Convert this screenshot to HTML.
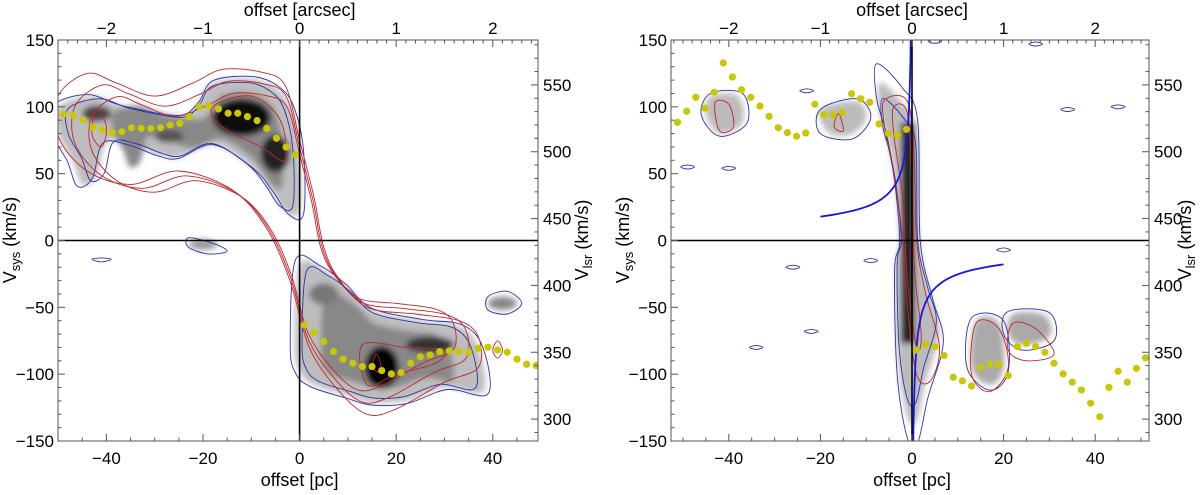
<!DOCTYPE html>
<html><head><meta charset="utf-8"><style>
body{margin:0;background:#fff}
svg text{font-family:"Liberation Sans","DejaVu Sans",sans-serif;fill:#000}
</style></head><body>
<svg id="s" width="1200" height="490" viewBox="0 0 1200 490" xmlns="http://www.w3.org/2000/svg">
<defs>
<filter id="bl" x="-20%" y="-20%" width="140%" height="140%"><feGaussianBlur stdDeviation="3"/></filter>
<clipPath id="cl"><rect x="58" y="40" width="480" height="401"/></clipPath>
<clipPath id="cr"><rect x="671" y="40" width="478" height="401"/></clipPath>
</defs>
</svg>
<script>
// ---- data ----
const leftDotPc = [-48.8,-46.8,-44.8,-42.8,-40.8,-38.8,-36.8,-34.8,-32.8,-30.8,-28.8,-26.8,-24.8,-22.8,-20.8,-18.8,-16.8,-14.8,-12.8,-10.8,-8.8,-6.8,-4.8,-2.8,-0.8,
 1,3,5,7,9,11,13,15,17,19,21,23,25,27,29,31,33,35,37,39,41,43,45,47,49];
const leftDotV = [94.7,93.4,90.2,84.7,82.7,80.7,81.4,84.4,83.9,83.7,84.4,86.4,87.7,92.7,100.1,100.6,98.4,95.2,95.2,92.7,89.7,83.9,76.5,69.9,64,
 -63.2,-68.9,-75.6,-83.1,-88.8,-91.8,-94.3,-94.3,-97.3,-99.8,-98.8,-91.8,-86.9,-85.6,-83.1,-82.6,-83.1,-83.6,-80.6,-79.8,-81.9,-83.6,-88.8,-92.6,-93.6];
const rightDotPc = [-51.2,-49.2,-47.2,-45.2,-43.2,-41.2,-39.2,-37.2,-35.2,-33.2,-31.2,-29.2,-27.2,-25.2,-23.2,-21.2,-19.2,-17.2,-15.2,-13.2,-11.2,-9.2,-7.2,-5.2,-3.2,-1.2,
 1,3,5,7,9,11,13,15,17,19,21,23,25,27,29,31,33,35,37,39,41,43,45,47,49,51];
const rightDotV = [88.4,96.7,107.1,99.0,110.9,132.8,122.3,112.8,107.1,100.6,92.9,84.4,80.7,78.0,80.4,101.9,94.1,93.7,95.9,109.8,106.1,103.4,87.2,80.2,78.7,83.2,
 -81.9,-77.6,-79.4,-86.1,-102.3,-105.0,-108.8,-94.8,-92.3,-93.1,-101.1,-79.4,-76.9,-79.4,-83.6,-91.8,-99.8,-106.0,-111.8,-121.7,-131.8,-109.8,-97.8,-106.0,-95.6,-87.8];
const xTicksPc = [-40,-20,0,20,40];
const xTicksArc = [-2,-1,0,1,2];
const yTicks = [150,100,50,0,-50,-100,-150];
const lsrTicks = [300,350,400,450,500,550];
const lsrOffset = 433.6;
const keplerA = 80;

const NS="http://www.w3.org/2000/svg";
const svg=document.getElementById('s');
function mk(tag,attrs,parent){const e=document.createElementNS(NS,tag);for(const k in attrs)e.setAttribute(k,attrs[k]);(parent||svg).appendChild(e);return e;}

function panel(id,x0,x1,zeroX,perPc,clip){
  const X=p=>zeroX+perPc*p, Y=v=>40+(150-v)*1.3367;
  const g=mk('g',{});
  
  
  const img=mk('g',{'clip-path':'url(#'+clip+')'},g);
  
  
  return {X,Y,g,img,x0,x1};
}
function smooth(P,pts,attrs,parent){
  const p=pts.map(q=>[P.X(q[0]),P.Y(q[1])]);const n=p.length;let d='M'+p[0][0].toFixed(1)+','+p[0][1].toFixed(1);
  for(let i=0;i<n;i++){const p0=p[(i-1+n)%n],p1=p[i],p2=p[(i+1)%n],p3=p[(i+2)%n];
    d+='C'+(p1[0]+(p2[0]-p0[0])/6).toFixed(1)+','+(p1[1]+(p2[1]-p0[1])/6).toFixed(1)+' '+(p2[0]-(p3[0]-p1[0])/6).toFixed(1)+','+(p2[1]-(p3[1]-p1[1])/6).toFixed(1)+' '+p2[0].toFixed(1)+','+p2[1].toFixed(1);}
  return mk('path',Object.assign({d:d+'Z'},attrs),parent);
}
function scale(pts,cx,cy,f){return pts.map(q=>[cx+(q[0]-cx)*f,cy+(q[1]-cy)*f]);}

function axes(P,name,lsrGap){
  const g=P.g, L=P.x0, R=P.x1, T=40, B=441;
  mk('line',{x1:L,y1:P.Y(0),x2:R,y2:P.Y(0),stroke:'#000','stroke-width':1.6},g);
  mk('line',{x1:P.X(0),y1:T,x2:P.X(0),y2:B,stroke:'#000','stroke-width':1.6},g);
  const fr=mk('rect',{x:L,y:T,width:R-L,height:B-T,fill:'none',stroke:'#555','stroke-width':1},g);
  
  
  const pcMin=(L-P.X(0))/(P.X(1)-P.X(0)), pcMax=(R-P.X(0))/(P.X(1)-P.X(0));
  for(let p=Math.ceil(pcMin/5)*5;p<=pcMax;p+=5){const x=P.X(p),M=p%20===0;
    mk('line',{x1:x,y1:B,x2:x,y2:B-(M?7:3.5),stroke:'#555'},g);}
  for(let a=Math.ceil(pcMin/2)*0.1;a*20<=pcMax;a+=0.1){const x=P.X(a*20),M=Math.abs(a-Math.round(a))<1e-6;
    mk('line',{x1:x,y1:T,x2:x,y2:T+(M?7:3.5),stroke:'#555'},g);}
  for(let v=-150;v<=150;v+=10){const y=P.Y(v),M=v%50===0;mk('line',{x1:L,y1:y,x2:L+(M?7:3.5),y2:y,stroke:'#555'},g);}
  for(let l=290;l<=580;l+=10){const y=P.Y(l-lsrOffset);if(y<T||y>B)continue;const M=l%50===0;mk('line',{x1:R,y1:y,x2:R-(M?7:3.5),y2:y,stroke:'#555'},g);}
  xTicksPc.forEach(t=>{const e=mk('text',{x:P.X(t),y:464,'font-size':17,'text-anchor':'middle'},g);e.textContent=t<0?'\u2212'+(-t):t;
    });
  xTicksArc.forEach(t=>{const e=mk('text',{x:P.X(t*20),y:34,'font-size':17,'text-anchor':'middle'},g);e.textContent=t<0?'\u2212'+(-t):t;
    });
  yTicks.forEach(t=>{const e=mk('text',{x:L-4,y:P.Y(t)+6,'font-size':17,'text-anchor':'end'},g);e.textContent=t<0?'\u2212'+(-t):t;
    });
  lsrTicks.forEach(t=>{const e=mk('text',{x:R+5,y:P.Y(t-lsrOffset)+6,'font-size':17},g);e.textContent=t;
    });
  const cx=P.X(0);
  let e=mk('text',{x:cx,y:486,'font-size':18,'text-anchor':'middle'},g);e.textContent='offset [pc]';
  
  e=mk('text',{x:cx,y:16,'font-size':18,'text-anchor':'middle'},g);e.textContent='offset [arcsec]';
  
  e=mk('text',{transform:'translate('+(L-42)+',240) rotate(-90)','font-size':18,'text-anchor':'middle'},g);
  e.innerHTML='V<tspan font-size="13" dy="4">sys</tspan><tspan dy="-4"> (km/s)</tspan>';
  
  e=mk('text',{transform:'translate('+(R+lsrGap)+',240) rotate(-90)','font-size':18,'text-anchor':'middle'},g);
  e.innerHTML='V<tspan font-size="13" dy="4">lsr</tspan><tspan dy="-4"> (km/s)</tspan>';
  
}
function dots(P,pcs,vs,name){
  pcs.forEach((p,i)=>{const c=mk('ellipse',{cx:P.X(p),cy:P.Y(vs[i]),rx:3.6,ry:3.6,fill:'#c8c800'},P.img);
    });
}

// ---------- LEFT PANEL ----------
const A=panel('left-panel',58,538,299.6,4.83,'cl');
{
  const gr=mk('g',{filter:'url(#bl)'},A.img);
  
  const up=[[-50,100],[-43,108],[-36,100],[-25,93],[-21,102],[-18,118],[-10,121],[-5,114],[-2,100],[0,68],[0,22],[-3,22],[-6,38],[-10,55],[-18,72],[-25,62],[-29,64],[-35,72],[-40,73],[-42,48],[-45,42],[-47,60],[-50,80]];
  const lo=[[0,-18],[5,-22],[10,-35],[15,-52],[25,-60],[33,-64],[37,-80],[38,-113],[30,-110],[22,-120],[15,-121],[10,-116],[3,-108],[0,-98],[-1,-78]];
  smooth(A,up,{fill:'#bdbdbd'},gr); smooth(A,lo,{fill:'#bdbdbd'},gr);
  smooth(A,scale(up,-12,85,0.7),{fill:'#888'},gr); smooth(A,scale(lo,17,-85,0.7),{fill:'#888'},gr);
  [[-12,92,6,14,'#111'],[-5,65,3,14,'#222'],[-42,95,3,6,'#444'],[-27,78,3,5,'#555'],[17,-95,3.5,16,'#000'],[27,-78,5,6,'#333'],[-20,-3,3,4,'#999'],[42,-47,3,5,'#888'],[5,-40,3,8,'#777']].forEach(b=>
    mk('ellipse',{cx:A.X(b[0]),cy:A.Y(b[1]),rx:b[2]*4.83,ry:b[3]*1.337,fill:b[4]},gr));
  const bl={fill:'none',stroke:'#2a35a8','stroke-width':0.9};
  smooth(A,scale(up,-20,80,1.04),bl,A.img);smooth(A,scale(up,-20,80,0.93),bl,A.img);
  smooth(A,scale(lo,18,-80,1.05),bl,A.img);smooth(A,scale(lo,18,-80,0.92),bl,A.img);
  smooth(A,[[-23,2],[-18,-2],[-15,-8],[-19,-10],[-23,-5]],bl,A.img);
  smooth(A,[[39,-42],[43,-38],[46,-47],[43,-55],[39,-52]],bl,A.img);
  smooth(A,[[-41,-13],[-39,-14],[-41,-16],[-43,-14]],bl,A.img);
  const red=[[-50,108],[-44,125],[-38,118],[-30,108],[-22,118],[-16,128],[-8,126],[-3,116],[0,75],[3,32],[5,-5],[8,-28],[14,-50],[24,-55],[33,-60],[37,-72],[37,-95],[30,-106],[20,-126],[14,-130],[8,-112],[2,-80],[-2,-30],[-7,10],[-14,38],[-25,52],[-35,42],[-44,52],[-50,78]];
  const rs={fill:'none',stroke:'#c0262c','stroke-width':0.9};
  smooth(A,red,rs,A.img);smooth(A,scale(red,0,0,0.93),rs,A.img);smooth(A,scale(red,0,0,0.86),rs,A.img);
  smooth(A,[[-42,98],[-40,85],[-41,70],[-43,80]],rs,A.img);
  smooth(A,[[-18,100],[-10,108],[-4,90],[-3,60],[-8,70],[-16,85]],rs,A.img);
  smooth(A,[[13,-78],[22,-80],[30,-82],[28,-92],[20,-100],[14,-108]],rs,A.img);
  smooth(A,[[16,-85],[17,-98],[15,-95]],rs,A.img);
  smooth(A,[[41,-75],[42,-82],[41,-88],[40,-82]],rs,A.img);
  dots(A,leftDotPc,leftDotV,'left-dot');
}
axes(A,'left',50);

// ---------- RIGHT PANEL ----------
const B=panel('right-panel',671,1149,912,4.58,'cr');
{
  const gr=mk('g',{filter:'url(#bl)'},B.img);
  
  const strip=[[-7,118],[-2,102],[1,80],[1.5,0],[4,-40],[6,-68],[3,-105],[1,-135],[-1,-132],[-3,-90],[-3.5,-20],[-2.5,0],[-3.5,40],[-5,70],[-7,95]];
  smooth(B,strip,{fill:'#bbb'},gr);
  mk('rect',{x:B.X(-2.4),y:B.Y(88),width:3*4.58,height:165*1.337,fill:'#222'},gr);
  smooth(B,[[-20,98],[-12,104],[-10,92],[-13,80],[-18,80]],{fill:'#bbb'},gr);
  smooth(B,[[-44,108],[-38,108],[-37,88],[-42,80],[-45,94]],{fill:'#bbb'},gr);
  smooth(B,[[14,-60],[19,-62],[20,-95],[17,-108],[13,-95]],{fill:'#aaa'},gr);
  smooth(B,[[22,-55],[29,-56],[30,-72],[24,-78],[21,-70]],{fill:'#aaa'},gr);
  const bl={fill:'none',stroke:'#2a35a8','stroke-width':0.9};
  smooth(B,scale(strip,-1,0,1.12),bl,B.img);smooth(B,scale(strip,-1,0,0.9),bl,B.img);
  smooth(B,[[-20,98],[-12,106],[-9,92],[-13,76],[-20,80]],bl,B.img);
  smooth(B,[[-44,110],[-37,110],[-36,88],[-42,78],[-46,94]],bl,B.img);
  smooth(B,[[13,-58],[20,-60],[21,-98],[17,-112],[12,-95]],bl,B.img);
  smooth(B,[[21,-53],[30,-54],[31,-75],[24,-82],[20,-70]],bl,B.img);
  [[-40,54],[-23,112],[-9,-15],[20,-7],[34,98],[45,100],[-26,-20],[-49,55],[-34,-80],[5,149],[27,147],[-22,-68]].forEach(c=>
    smooth(B,[[c[0]-1.5,c[1]],[c[0],c[1]+1.5],[c[0]+1.5,c[1]],[c[0],c[1]-1.5]],bl,B.img));
  const rs={fill:'none',stroke:'#c0262c','stroke-width':0.9};
  smooth(B,[[-6,105],[-1,104],[0.5,60],[1,0],[3,-40],[6,-80],[4,-105],[1,-100],[-1,-50],[-2,0],[-4,50],[-6,85]],rs,B.img);
  smooth(B,[[-4,100],[-1,95],[0,40],[0.5,-20],[2,-70],[1,-80],[-1,-30],[-2,30],[-4,80]],rs,B.img);
  smooth(B,[[-43,103],[-40,102],[-39,85],[-42,82]],rs,B.img);
  smooth(B,[[-16,95],[-15,82],[-17,85]],rs,B.img);
  smooth(B,[[14,-62],[19,-66],[21,-95],[17,-113],[13,-100]],rs,B.img);
  smooth(B,[[22,-62],[27,-66],[31,-85],[25,-90],[21,-82]],rs,B.img);
  let d1='',d2='';
  for(let i=0;i<=60;i++){const x=-20*Math.pow(0.0125,i/60);const v=keplerA/Math.sqrt(-x);
    d1+=(i?'L':'M')+B.X(x).toFixed(1)+','+B.Y(Math.min(v,160)).toFixed(1);
    d2+=(i?'L':'M')+B.X(-x).toFixed(1)+','+B.Y(-Math.min(v,160)).toFixed(1);}
  let c=mk('path',{d:d1,fill:'none',stroke:'#1515ee','stroke-width':1.8},B.img);
  
  c=mk('path',{d:d2,fill:'none',stroke:'#1515ee','stroke-width':1.8},B.img);
  
  dots(B,rightDotPc,rightDotV,'right-dot');
}
axes(B,'right',42);
</script>
</body></html>
